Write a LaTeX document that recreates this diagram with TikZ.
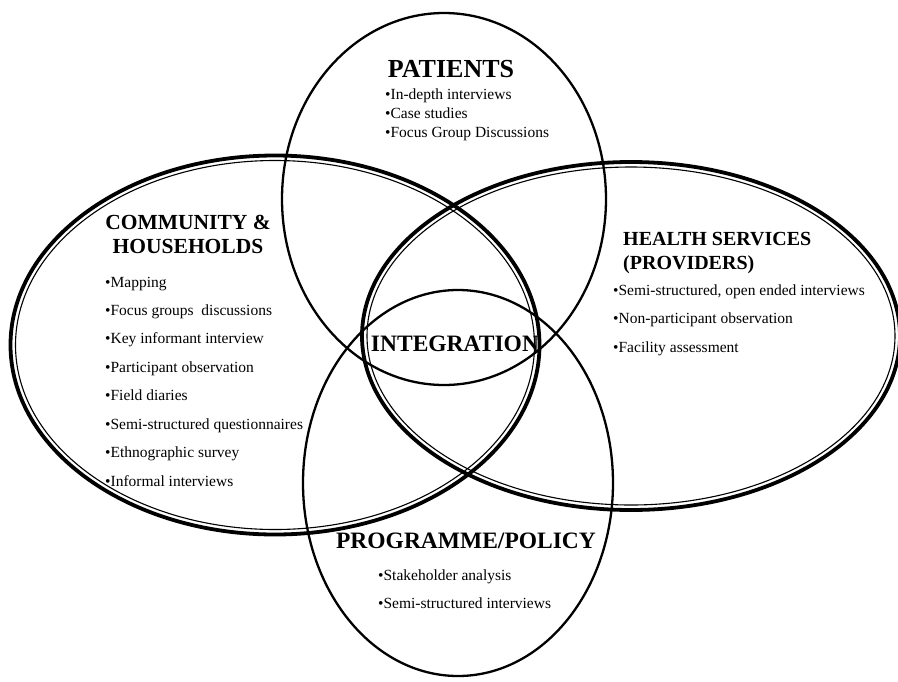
\documentclass[tikz,border=0pt]{standalone}
\usepackage{fontspec}
\setmainfont{Liberation Serif}
\begin{document}
\begin{tikzpicture}[x=1pt,y=-1pt,
  single/.style={draw=black,line width=2.3pt},
  dblout/.style={draw=black,line width=3.8pt},
  dblin/.style={draw=black,line width=1.1pt},
  head/.style={inner sep=0pt,font=\bfseries\fontsize{22}{24}\selectfont},
  item/.style={inner sep=0pt,anchor=base west,font=\fontsize{15.5}{18}\selectfont}]
\useasboundingbox (0,0) rectangle (898,681);
% ellipses
\draw[single] (444,199) ellipse [x radius=162pt, y radius=186pt];
\draw[single] (458,483) ellipse [x radius=155pt, y radius=193pt];
\draw[dblout] (275,345) ellipse [x radius=264.5pt, y radius=189.5pt];
\draw[dblin]  (275,345) ellipse [x radius=259.5pt, y radius=184.5pt];
\draw[dblout] (631,336) ellipse [x radius=269pt, y radius=174pt];
\draw[dblin]  (631,336) ellipse [x radius=264pt, y radius=169pt];
% Patients
\node[head,anchor=base,font=\bfseries\fontsize{26}{28}\selectfont] (pt) at (451,77) {PATIENTS};
\node[item] (p1) at (385,99) {•In-depth interviews};
\node[item] (p2) at (385,118) {•Case studies};
\node[item] (p3) at (385,137) {•Focus Group Discussions};
% Community
\node[head,anchor=base,font=\bfseries\fontsize{21.5}{24}\selectfont] (c0) at (188,229) {COMMUNITY \&};
\node[head,anchor=base,font=\bfseries\fontsize{21.5}{24}\selectfont] (c00) at (188,253) {HOUSEHOLDS};
\node[item] (c1) at (105,287) {•Mapping};
\node[item] (c2) at (105,315) {•Focus groups\ \ discussions};
\node[item] (c3) at (105,343) {•Key informant interview};
\node[item] (c4) at (105,372) {•Participant observation};
\node[item] (c5) at (105,400) {•Field diaries};
\node[item] (c6) at (105,429) {•Semi-structured questionnaires};
\node[item] (c7) at (105,457) {•Ethnographic survey};
\node[item] (c8) at (105,486) {•Informal interviews};
% Health services
\node[head,anchor=base west,font=\bfseries\fontsize{20}{22}\selectfont] (h0) at (623,245) {HEALTH SERVICES};
\node[head,anchor=base west,font=\bfseries\fontsize{20}{22}\selectfont] (h00) at (623,269) {(PROVIDERS)};
\node[item] (h1) at (613,295) {•Semi-structured, open ended interviews};
\node[item] (h2) at (613,323) {•Non-participant observation};
\node[item] (h3) at (613,352) {•Facility assessment};
% Integration
\node[head,anchor=base,font=\bfseries\fontsize{23.5}{26}\selectfont] (ig) at (455,351) {INTEGRATION};
% Programme
\node[head,anchor=base,font=\bfseries\fontsize{23.5}{26}\selectfont] (pg) at (466,548) {PROGRAMME/POLICY};
\node[item] (g1) at (378,580) {•Stakeholder analysis};
\node[item] (g2) at (378,608) {•Semi-structured interviews};
\end{tikzpicture}
\end{document}
